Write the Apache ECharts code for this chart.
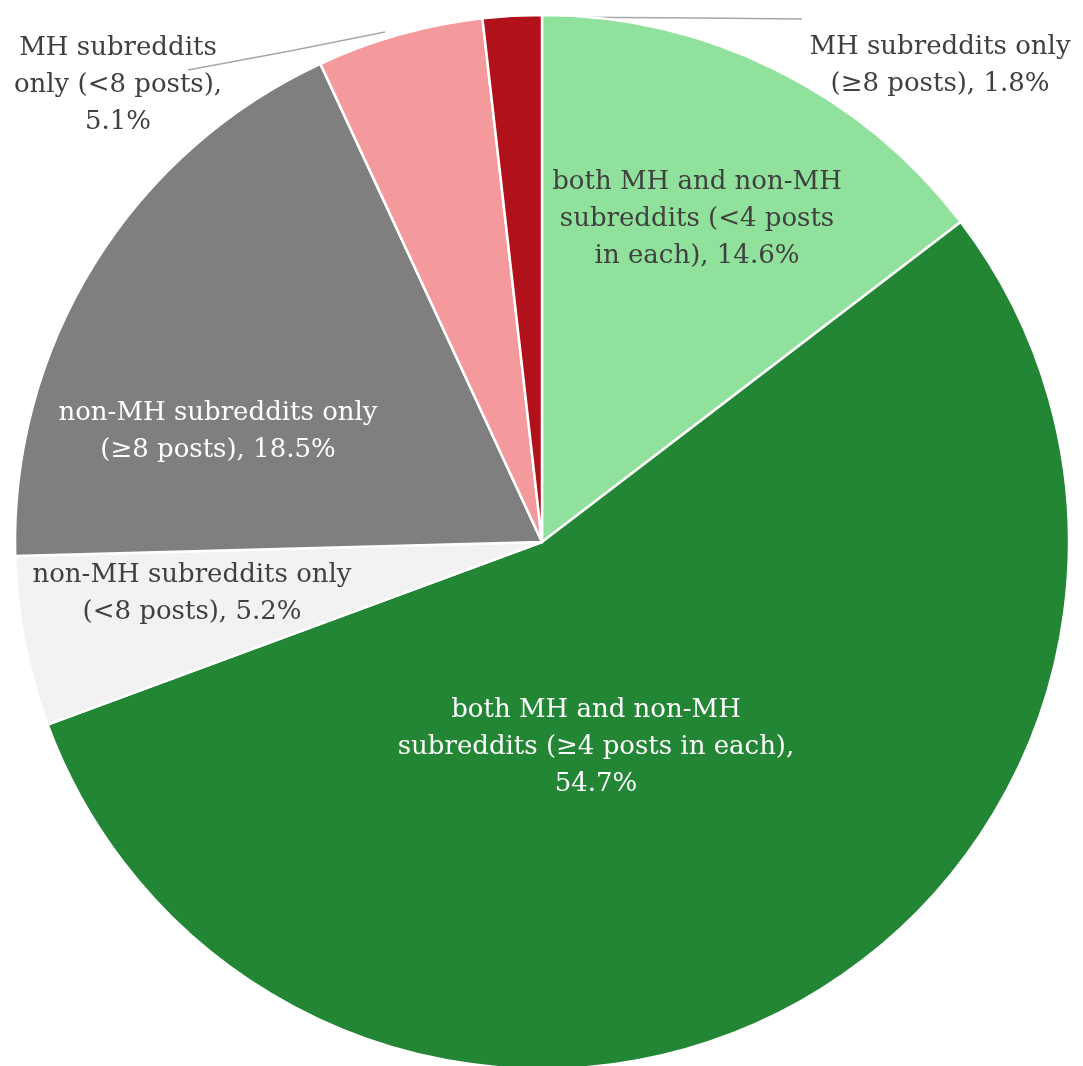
<!DOCTYPE html>
<html>
<head>
<meta charset="utf-8">
<script src="https://cdn.jsdelivr.net/npm/echarts@6/dist/echarts.min.js"></script>
<style>
  html, body { margin: 0; padding: 0; background: #ffffff; }
  #chart { width: 1083px; height: 1066px; }
</style>
</head>
<body>
<div id="chart"></div>
<script>
// Share of users by where they posted (clockwise from 12 o'clock)
const categories = [
  'both MH and non-MH subreddits (<4 posts in each)',
  'both MH and non-MH subreddits (\u22654 posts in each)',
  'non-MH subreddits only (<8 posts)',
  'non-MH subreddits only (\u22658 posts)',
  'MH subreddits only (<8 posts)',
  'MH subreddits only (\u22658 posts)'
];
const shares = [14.6, 54.7, 5.2, 18.5, 5.1, 1.8];
// Wrapped label text for each slice (the value is appended below)
const labelLines = [
  'both MH and non-MH\nsubreddits (<4 posts\nin each),',
  'both MH and non-MH\nsubreddits (\u22654 posts in each),\n',
  'non-MH subreddits only\n(<8 posts),',
  'non-MH subreddits only\n(\u22658 posts),',
  'MH subreddits\nonly (<8 posts),\n',
  'MH subreddits only\n(\u22658 posts),'
];
const sliceColors = ['#90E19B', '#238635', '#F2F2F2', '#7F7F7F', '#F4999C', '#B0111B'];
const labelColors = ['#404040', '#FFFFFF', '#404040', '#FFFFFF', '#404040', '#404040'];

// Label anchor placement (centre of each text block) and leader lines
const labelPlacement = [
  { x: 697, y: 219 },
  { x: 596, y: 747 },
  { x: 192, y: 594 },
  { x: 218, y: 432 },
  { x: 118, y: 85, line: [[385, 32], [290, 51], [188, 70]] },
  { x: 940, y: 66, line: [[538, 17], [700, 18], [802, 19]] }
];

const data = categories.map((name, i) => ({
  name: name,
  value: shares[i],
  itemStyle: { color: sliceColors[i] },
  label: {
    color: labelColors[i],
    formatter: labelLines[i] + (labelLines[i].endsWith('\n') ? '' : ' ') + shares[i].toFixed(1) + '%'
  },
  labelLine: { show: !!labelPlacement[i].line }
}));

const chart = echarts.init(document.getElementById('chart'), null, { renderer: 'canvas' });
chart.setOption({
  backgroundColor: '#ffffff',
  animation: false,
  series: [{
    type: 'pie',
    center: [542, 542],
    radius: 527,
    startAngle: 90,
    clockwise: true,
    avoidLabelOverlap: false,
    itemStyle: { borderColor: '#ffffff', borderWidth: 2.5 },
    label: {
      show: true,
      position: 'outside',
      fontFamily: 'DejaVu Serif',
      fontSize: 26,
      lineHeight: 37,
      align: 'center'
    },
    labelLine: {
      show: true,
      lineStyle: { color: '#A6A6A6', width: 1.5 }
    },
    emphasis: { disabled: true },
    labelLayout: function (params) {
      const p = labelPlacement[params.dataIndex];
      const out = {
        x: p.x,
        y: p.y,
        align: 'center',
        verticalAlign: 'middle'
      };
      if (p.line) out.labelLinePoints = p.line;
      return out;
    },
    data: data
  }]
});
</script>
</body>
</html>
